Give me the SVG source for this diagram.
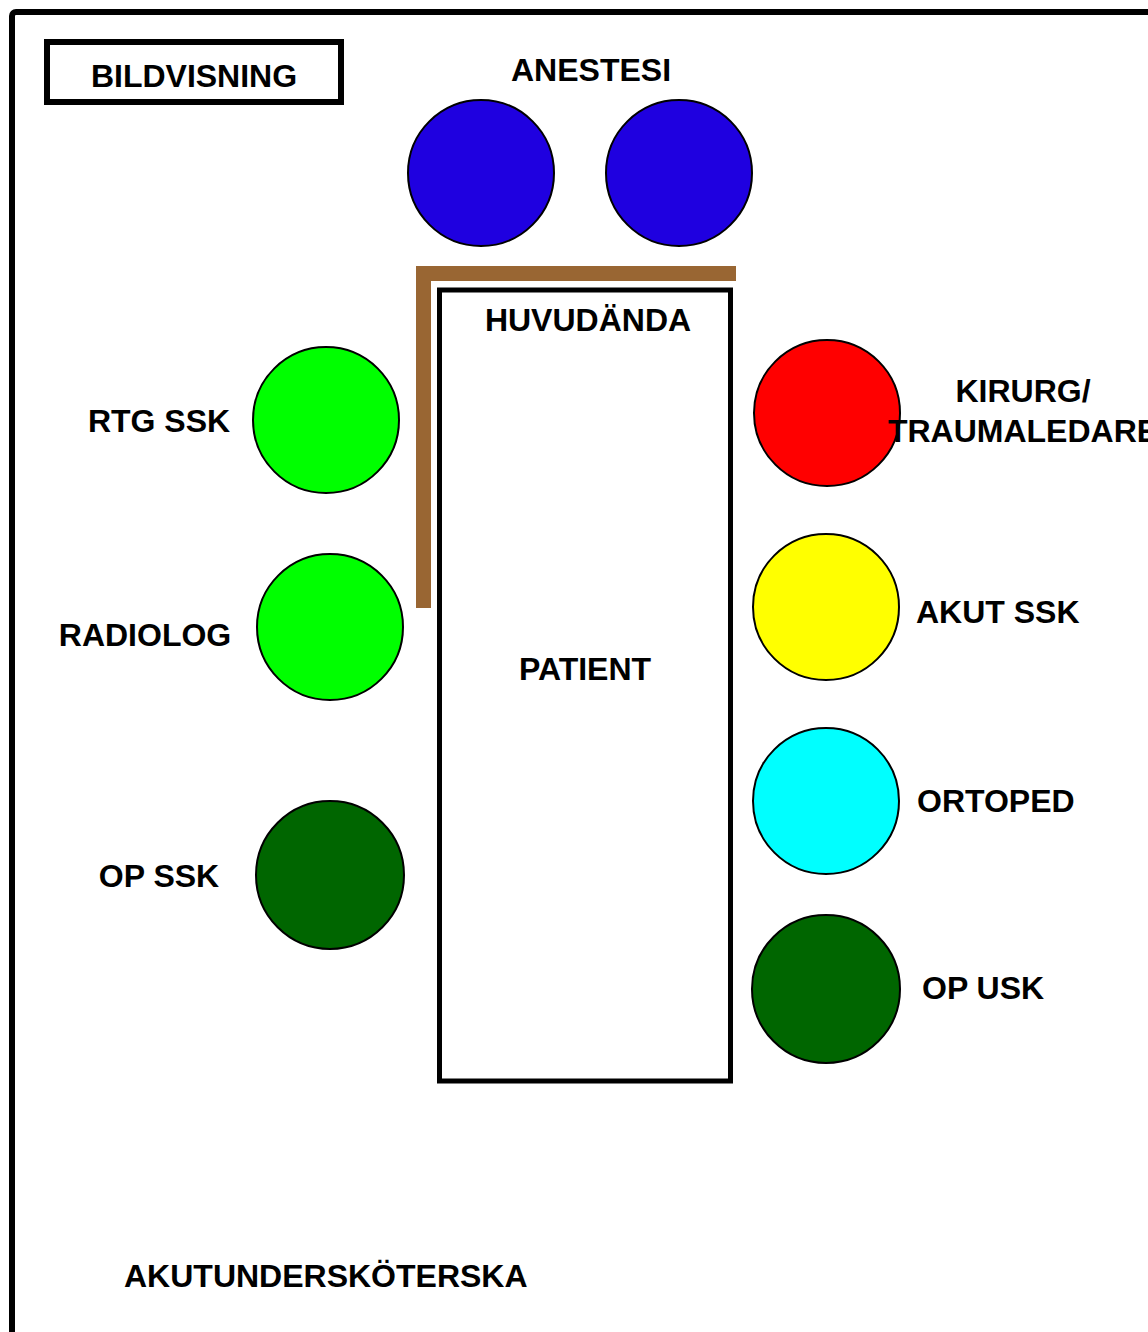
<svg xmlns="http://www.w3.org/2000/svg" width="1148" height="1332" viewBox="0 0 1148 1332">
<style>
text{font-family:"Liberation Sans",Arial,sans-serif;font-weight:bold;font-size:32px;fill:#000}
.m{text-anchor:middle}
.c{stroke:#000;stroke-width:2}
</style>
<rect width="1148" height="1332" fill="#fff"/>
<rect x="12" y="12" width="1200" height="1400" rx="4" fill="none" stroke="#000" stroke-width="6"/>
<g id="bildvisning">
<rect x="47" y="42" width="294" height="60" fill="none" stroke="#000" stroke-width="6"/>
<text x="194" y="87" class="m">BILDVISNING</text>
</g>
<g id="anestesi">
<text x="591" y="81" class="m">ANESTESI</text>
<circle class="c" cx="481" cy="173" r="73" fill="#1f00e0"/>
<circle class="c" cx="679" cy="173" r="73" fill="#1f00e0"/>
</g>
<g id="huvudande-bar">
<path d="M423.5 608 V273.5 H736" fill="none" stroke="#996633" stroke-width="15"/>
</g>
<g id="patient">
<rect x="439.5" y="290" width="291" height="791" fill="#fff" stroke="#000" stroke-width="5"/>
<text x="588" y="331" class="m">HUVUDÄNDA</text>
<text x="585" y="680" class="m">PATIENT</text>
</g>
<g id="rtg-ssk">
<circle class="c" cx="326" cy="420" r="73" fill="#00ff00"/>
<text x="159" y="432" class="m">RTG SSK</text>
</g>
<g id="radiolog">
<circle class="c" cx="330" cy="627" r="73" fill="#00ff00"/>
<text x="145" y="646" class="m">RADIOLOG</text>
</g>
<g id="op-ssk">
<circle class="c" cx="330" cy="875" r="74" fill="#006600"/>
<text x="159" y="887" class="m">OP SSK</text>
</g>
<g id="kirurg">
<circle class="c" cx="827" cy="413" r="73" fill="#ff0000"/>
<text x="1023" y="402" class="m">KIRURG/</text>
<text x="1023" y="442" class="m">TRAUMALEDARE</text>
</g>
<g id="akut-ssk">
<circle class="c" cx="826" cy="607" r="73" fill="#ffff00"/>
<text x="916" y="623">AKUT SSK</text>
</g>
<g id="ortoped">
<circle class="c" cx="826" cy="801" r="73" fill="#00ffff"/>
<text x="917" y="812">ORTOPED</text>
</g>
<g id="op-usk">
<circle class="c" cx="826" cy="989" r="74" fill="#006600"/>
<text x="922" y="999">OP USK</text>
</g>
<g id="akutunderskoterska">
<text x="124" y="1287">AKUTUNDERSKÖTERSKA</text>
</g>
<g id="connectors"></g>
</svg>
